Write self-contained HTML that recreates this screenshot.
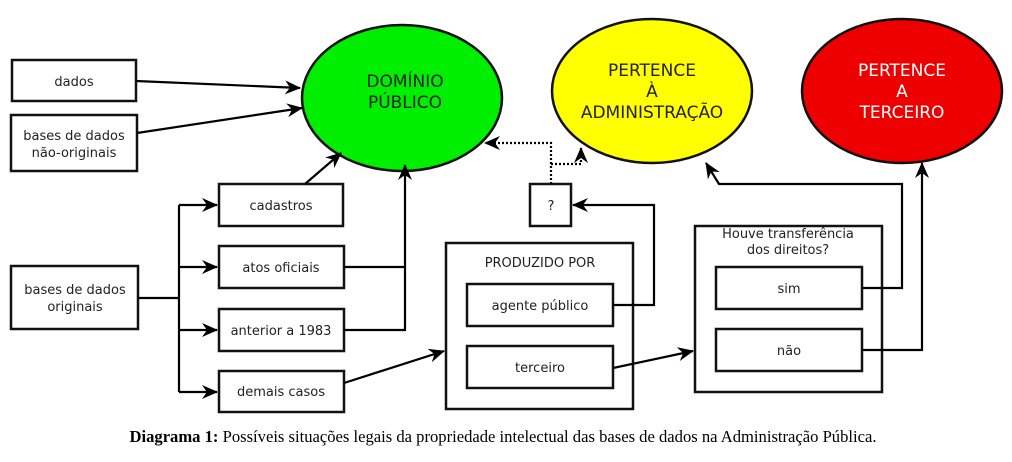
<!DOCTYPE html>
<html><head><meta charset="utf-8"><style>
html,body{margin:0;padding:0;background:#fff;}
svg{display:block;}
text{font-family:"DejaVu Sans","Liberation Sans",sans-serif;fill:#222;}
</style></head><body>
<svg width="1012" height="462" viewBox="0 0 1012 462" xmlns="http://www.w3.org/2000/svg">
<defs>
<marker id="a" viewBox="0 0 16 14" refX="15" refY="7" markerWidth="16" markerHeight="14" markerUnits="userSpaceOnUse" orient="auto">
<path d="M0,0 L16,7 L0,14 L5,7 Z" fill="#000"/></marker>
</defs>
<rect width="1012" height="462" fill="#fff"/>
<g fill="none" stroke="#111" stroke-width="2.5">
<ellipse cx="402" cy="98" rx="100" ry="73" fill="#00ee00"/>
<ellipse cx="652" cy="91" rx="100" ry="72" fill="#ffff00"/>
<ellipse cx="902" cy="91" rx="100" ry="72" fill="#ee0000"/>
<rect x="12" y="60" width="124" height="41"/>
<rect x="11" y="115" width="126" height="56"/>
<rect x="219" y="184" width="124" height="42"/>
<rect x="219" y="246" width="125" height="42"/>
<rect x="219" y="309" width="125" height="42"/>
<rect x="219" y="371" width="125" height="41"/>
<rect x="11" y="266" width="127" height="63"/>
<rect x="530" y="184" width="41" height="42"/>
<rect x="446" y="243" width="187" height="166"/>
<rect x="467" y="284" width="146" height="42"/>
<rect x="467" y="346" width="146" height="42"/>
<rect x="695" y="226" width="187" height="166"/>
<rect x="716" y="267" width="146" height="42"/>
<rect x="716" y="329" width="146" height="42"/>
</g>
<g fill="none" stroke="#000" stroke-width="2.2">
<path d="M136,81 L300,88" marker-end="url(#a)"/>
<path d="M137,133 L302,108" marker-end="url(#a)"/>
<path d="M138,298 H179 M179,205 V392"/>
<path d="M179,205 H217" marker-end="url(#a)"/>
<path d="M179,267 H217" marker-end="url(#a)"/>
<path d="M179,330 H217" marker-end="url(#a)"/>
<path d="M179,392 H217" marker-end="url(#a)"/>
<path d="M305,184 L341,153" marker-end="url(#a)"/>
<path d="M344,267 H405 M344,330 H405 V165" marker-end="url(#a)"/>
<path d="M344,383 L444,351" marker-end="url(#a)"/>
<path d="M613,305 H654 V205 H573" marker-end="url(#a)"/>
<path d="M613,368 L693,351" marker-end="url(#a)"/>
<path d="M862,288 H902 V184 H719 L706,163" marker-end="url(#a)"/>
<path d="M862,350 H922 V163" marker-end="url(#a)"/>
</g>
<g fill="none" stroke="#000" stroke-width="2.2" stroke-dasharray="2,2">
<path d="M551,184 V143 H485" marker-end="url(#a)"/>
<path d="M551,164 H581 V148" marker-end="url(#a)"/>
</g>
<g font-size="13" text-anchor="middle">
<text x="74" y="86">dados</text>
<text x="74" y="140">bases de dados</text>
<text x="74" y="157">não-originais</text>
<text x="281" y="210">cadastros</text>
<text x="281" y="272">atos oficiais</text>
<text x="281" y="335">anterior a 1983</text>
<text x="281" y="396">demais casos</text>
<text x="75" y="294">bases de dados</text>
<text x="75" y="311">originais</text>
<text x="551" y="210">?</text>
<text x="540" y="267">PRODUZIDO POR</text>
<text x="540" y="310">agente público</text>
<text x="540" y="372">terceiro</text>
<text x="788" y="238">Houve transferência</text>
<text x="788" y="254">dos direitos?</text>
<text x="789" y="293">sim</text>
<text x="789" y="355">não</text>
</g>
<g font-size="17" text-anchor="middle">
<text x="405" y="87" fill="#111">DOMÍNIO</text>
<text x="405" y="108" fill="#111">PÚBLICO</text>
<text x="652" y="76" fill="#111">PERTENCE</text>
<text x="652" y="97" fill="#111">À</text>
<text x="652" y="118" fill="#111">ADMINISTRAÇÃO</text>
<text x="902" y="76" style="fill:#fff">PERTENCE</text>
<text x="902" y="97" style="fill:#fff">A</text>
<text x="902" y="118" style="fill:#fff">TERCEIRO</text>
</g>
<text x="503" y="442" text-anchor="middle" font-size="16.6" style="font-family:'Liberation Serif',serif;fill:#000"><tspan font-weight="bold">Diagrama 1:</tspan> Possíveis situações legais da propriedade intelectual das bases de dados na Administração Pública.</text>
</svg>
</body></html>
